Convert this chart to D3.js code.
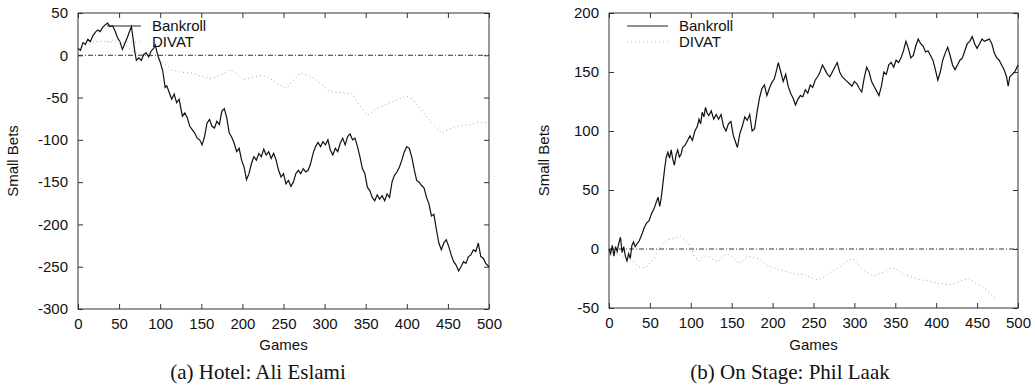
<!DOCTYPE html>
<html>
<head>
<meta charset="utf-8">
<script src="https://cdn.jsdelivr.net/npm/d3@7"></script>
<style>
  body { margin: 0; background: #fff; }
  svg text { font-family: "Liberation Sans", Arial, sans-serif; fill: #111; }
  .caption { font-family: "Liberation Serif", "Times New Roman", serif; }
</style>
</head>
<body>
<div id="chart"></div>
<script>
// ---------------------------- DATA ---------------------------- //
// [game, small bets]
const hotelBankroll = [
  [0,8],[3,6],[6,15],[9,13],[12,19],[15,16],[18,23],[21,27],[24,30],[27,28],[30,33],[33,36],[36,38],[39,34],[42,35],
  [45,29],[48,21],[51,16],[54,7],[57,14],[60,21],[63,29],[65,34],[67,20],[69,5],[71,-6],[74,-3],[77,-6],[80,1],[83,3],
  [86,-2],[89,5],[92,8],[94,12],[96,4],[98,-3],[100,-8],[103,-18],[106,-38],[108,-36],[111,-44],[114,-52],[117,-46],
  [120,-56],[123,-52],[127,-72],[130,-68],[133,-74],[136,-84],[139,-88],[142,-92],[145,-98],[148,-100],[151,-106],
  [154,-96],[157,-80],[160,-76],[163,-84],[166,-86],[169,-78],[172,-82],[175,-66],[178,-63],[181,-74],[184,-92],
  [187,-97],[190,-104],[193,-114],[196,-110],[199,-124],[202,-132],[205,-147],[208,-140],[211,-128],[214,-120],
  [217,-124],[220,-116],[223,-120],[226,-111],[229,-118],[232,-114],[235,-122],[238,-116],[241,-124],[244,-136],
  [247,-144],[250,-140],[253,-152],[256,-148],[259,-155],[262,-150],[265,-140],[268,-136],[271,-140],[274,-134],
  [277,-138],[280,-136],[283,-128],[286,-116],[289,-108],[292,-103],[295,-108],[298,-102],[301,-106],[304,-100],
  [307,-112],[310,-118],[313,-110],[316,-114],[319,-104],[322,-98],[325,-106],[328,-96],[331,-93],[334,-100],
  [337,-98],[340,-108],[343,-120],[346,-134],[349,-140],[352,-156],[355,-160],[358,-168],[361,-172],[364,-165],
  [367,-170],[370,-166],[373,-172],[376,-164],[379,-168],[382,-150],[385,-142],[388,-138],[391,-132],[394,-124],
  [397,-114],[400,-108],[403,-110],[406,-120],[409,-135],[412,-148],[415,-150],[418,-154],[421,-157],[424,-168],
  [427,-176],[430,-190],[433,-188],[436,-206],[439,-222],[442,-230],[445,-222],[448,-218],[451,-226],[454,-236],
  [457,-244],[460,-248],[463,-255],[466,-250],[469,-244],[472,-246],[475,-238],[478,-236],[481,-230],[484,-232],
  [487,-222],[490,-238],[493,-240],[496,-246],[500,-250]
];
const hotelDivat = [
  [0,8],[10,12],[20,16],[30,17],[37,16],[45,19],[55,14],[62,8],[70,3],[80,1],[90,-2],[100,-6],[114,-17],[125,-20],
  [139,-21],[151,-25],[162,-28],[172,-24],[185,-17],[193,-22],[201,-29],[212,-26],[222,-24],[230,-25],[242,-33],
  [254,-39],[262,-30],[270,-21],[280,-24],[290,-29],[300,-37],[306,-43],[316,-44],[327,-45],[333,-45],[342,-58],
  [352,-71],[362,-64],[377,-57],[392,-51],[398,-48],[406,-51],[418,-65],[430,-80],[443,-92],[450,-88],[457,-85],
  [467,-83],[477,-82],[487,-79],[495,-80],[500,-79]
];
const stageBankroll = [
  [0,0],[2,-4],[4,3],[6,-6],[8,2],[10,-2],[12,5],[14,10],[16,-3],[18,2],[20,-6],[22,-10],[24,-4],[26,-8],[28,3],
  [30,6],[32,2],[34,4],[37,7],[40,12],[43,18],[46,22],[49,24],[52,30],[55,34],[58,40],[60,44],[62,36],[64,44],
  [66,56],[68,68],[70,78],[72,82],[74,77],[76,84],[78,76],[80,71],[82,80],[84,84],[86,78],[88,80],[90,86],[93,88],
  [96,92],[99,96],[102,92],[105,100],[108,104],[110,110],[112,106],[114,116],[116,112],[118,120],[120,115],
  [122,113],[125,117],[128,110],[131,114],[134,110],[137,114],[140,104],[143,100],[146,106],[149,108],[152,96],
  [155,90],[157,86],[160,98],[163,104],[166,112],[169,109],[172,114],[175,100],[178,102],[181,116],[184,128],
  [187,136],[190,139],[193,130],[196,136],[199,141],[202,144],[205,152],[207,158],[210,150],[213,142],[216,148],
  [219,138],[222,132],[225,128],[228,122],[231,127],[234,130],[237,129],[240,135],[243,132],[246,139],[249,137],
  [252,143],[255,146],[258,150],[261,156],[264,152],[267,148],[270,146],[273,150],[276,154],[279,158],[282,150],
  [285,146],[288,144],[291,142],[294,140],[297,138],[300,142],[303,140],[306,136],[309,133],[312,145],[315,154],
  [318,150],[321,142],[324,138],[327,134],[330,130],[333,138],[336,150],[339,148],[342,156],[345,158],[348,154],
  [351,160],[354,158],[357,162],[360,168],[363,176],[366,170],[369,162],[372,164],[375,172],[378,178],[381,174],
  [384,172],[387,167],[390,168],[393,164],[396,160],[399,152],[402,143],[405,150],[408,160],[411,166],[414,171],
  [417,164],[420,156],[423,152],[426,156],[429,160],[432,162],[435,168],[438,174],[441,176],[444,180],[447,174],
  [450,170],[453,174],[456,178],[459,176],[462,177],[465,178],[468,174],[471,166],[474,162],[477,160],[480,156],
  [483,152],[486,146],[488,138],[490,146],[493,148],[496,150],[500,156]
];
const stageDivat = [
  [0,0],[10,-4],[20,-8],[30,-10],[35,-15],[45,-16],[56,-7],[60,-1],[66,5],[73,8],[81,9],[87,11],[93,8],[100,2],
  [104,-6],[110,-10],[115,-6],[121,-6],[127,-9],[133,-11],[138,-7],[144,-4],[150,-6],[158,-12],[163,-11],[169,-6],
  [176,-7],[185,-9],[193,-14],[201,-16],[211,-18],[221,-20],[230,-22],[237,-21],[246,-24],[254,-26],[262,-24],
  [270,-20],[280,-16],[290,-11],[298,-8],[305,-14],[313,-19],[323,-23],[334,-20],[346,-16],[354,-18],[362,-22],
  [371,-24],[380,-26],[392,-27],[403,-29],[413,-30],[421,-30],[430,-27],[441,-25],[450,-30],[457,-32],[463,-36],
  [469,-40],[474,-43]
];
const gameTicks = [0, 50, 100, 150, 200, 250, 300, 350, 400, 450, 500];
const hotelTicks = [-300, -250, -200, -150, -100, -50, 0, 50];
const stageTicks = [-50, 0, 50, 100, 150, 200];
const seriesNames = ["Bankroll", "DIVAT"];
const captions = ["(a) Hotel: Ali Eslami", "(b) On Stage: Phil Laak"];

// --------------------------- LAYOUT --------------------------- //
const width = 1035;
const height = 391;

const svg = d3.select("#chart").append("svg")
  .attr("width", width)
  .attr("height", height)
  .style("display", "block");

const panels = [
  { x0: 78, x1: 489, y0: 13, y1: 309, yDomain: [-300, 50], yTicks: hotelTicks,
    bank: hotelBankroll, divat: hotelDivat, legX: 107, legLen: 34, yLabelX: 18,
    caption: captions[0], capX: 258 },
  { x0: 609, x1: 1018, y0: 13, y1: 308, yDomain: [-50, 200], yTicks: stageTicks,
    bank: stageBankroll, divat: stageDivat, legX: 627, legLen: 41, yLabelX: 549,
    caption: captions[1], capX: 790 }
];

// plain hyphen for negatives, like the original
const fmt = d => String(d);

function drawPanel(p) {
  const x = d3.scaleLinear().domain([0, 500]).range([p.x0, p.x1]);
  const y = d3.scaleLinear().domain(p.yDomain).range([p.y1, p.y0]);
  const g = svg.append("g");

  // ticks (inside, mirrored like gnuplot)
  const tl = 5;
  g.append("g").attr("transform", `translate(0,${p.y1})`)
    .call(d3.axisBottom(x).tickValues(gameTicks).tickFormat(fmt).tickSizeInner(-tl).tickSizeOuter(0).tickPadding(9))
    .call(a => a.select(".domain").remove())
    .call(a => a.selectAll("line").attr("stroke", "#333"))
    .call(a => a.selectAll("text").style("font-size", "15px").attr("fill", "#111"));
  g.append("g").attr("transform", `translate(0,${p.y0})`)
    .call(d3.axisTop(x).tickValues(gameTicks).tickSizeInner(-tl).tickSizeOuter(0).tickFormat(""))
    .call(a => a.select(".domain").remove())
    .call(a => a.selectAll("line").attr("stroke", "#333"));
  g.append("g").attr("transform", `translate(${p.x0},0)`)
    .call(d3.axisLeft(y).tickValues(p.yTicks).tickFormat(fmt).tickSizeInner(-tl).tickSizeOuter(0).tickPadding(10))
    .call(a => a.select(".domain").remove())
    .call(a => a.selectAll("line").attr("stroke", "#333"))
    .call(a => a.selectAll("text").style("font-size", "15px").attr("fill", "#111"));
  g.append("g").attr("transform", `translate(${p.x1},0)`)
    .call(d3.axisRight(y).tickValues(p.yTicks).tickSizeInner(-tl).tickSizeOuter(0).tickFormat(""))
    .call(a => a.select(".domain").remove())
    .call(a => a.selectAll("line").attr("stroke", "#333"));

  // frame
  g.append("rect")
    .attr("x", p.x0).attr("y", p.y0)
    .attr("width", p.x1 - p.x0).attr("height", p.y1 - p.y0)
    .attr("fill", "none").attr("stroke", "#333").attr("stroke-width", 1);

  // zero line
  g.append("line")
    .attr("x1", x(0)).attr("x2", x(500))
    .attr("y1", y(0)).attr("y2", y(0))
    .attr("stroke", "#333").attr("stroke-width", 1)
    .attr("stroke-dasharray", "5,2,1,2");

  const line = d3.line().x(d => x(d[0])).y(d => y(d[1]));

  g.append("path").datum(p.divat)
    .attr("d", line)
    .attr("fill", "none").attr("stroke", "#aaa").attr("stroke-width", 1)
    .attr("stroke-dasharray", "1,3");

  g.append("path").datum(p.bank)
    .attr("d", line)
    .attr("fill", "none").attr("stroke", "#111").attr("stroke-width", 1.2);

  // legend
  const legY = [26, 42];
  seriesNames.forEach((name, i) => {
    g.append("line")
      .attr("x1", p.legX).attr("x2", p.legX + p.legLen)
      .attr("y1", legY[i]).attr("y2", legY[i])
      .attr("stroke", i === 0 ? "#222" : "#bbb")
      .attr("stroke-dasharray", i === 0 ? null : "1,3");
    g.append("text")
      .attr("x", p.legX + p.legLen + 11).attr("y", legY[i] + 5)
      .style("font-size", "15px")
      .text(name);
  });

  // axis labels
  g.append("text")
    .attr("x", (p.x0 + p.x1) / 2).attr("y", 350)
    .attr("text-anchor", "middle")
    .style("font-size", "15px")
    .text("Games");
  g.append("text")
    .attr("transform", `translate(${p.yLabelX},${(p.y0 + p.y1) / 2}) rotate(-90)`)
    .attr("text-anchor", "middle")
    .style("font-size", "15px")
    .text("Small Bets");

  // caption
  g.append("text")
    .attr("class", "caption")
    .attr("x", p.capX).attr("y", 379)
    .attr("text-anchor", "middle")
    .style("font-size", "21px")
    .text(p.caption);
}

panels.forEach(drawPanel);
</script>
</body>
</html>
